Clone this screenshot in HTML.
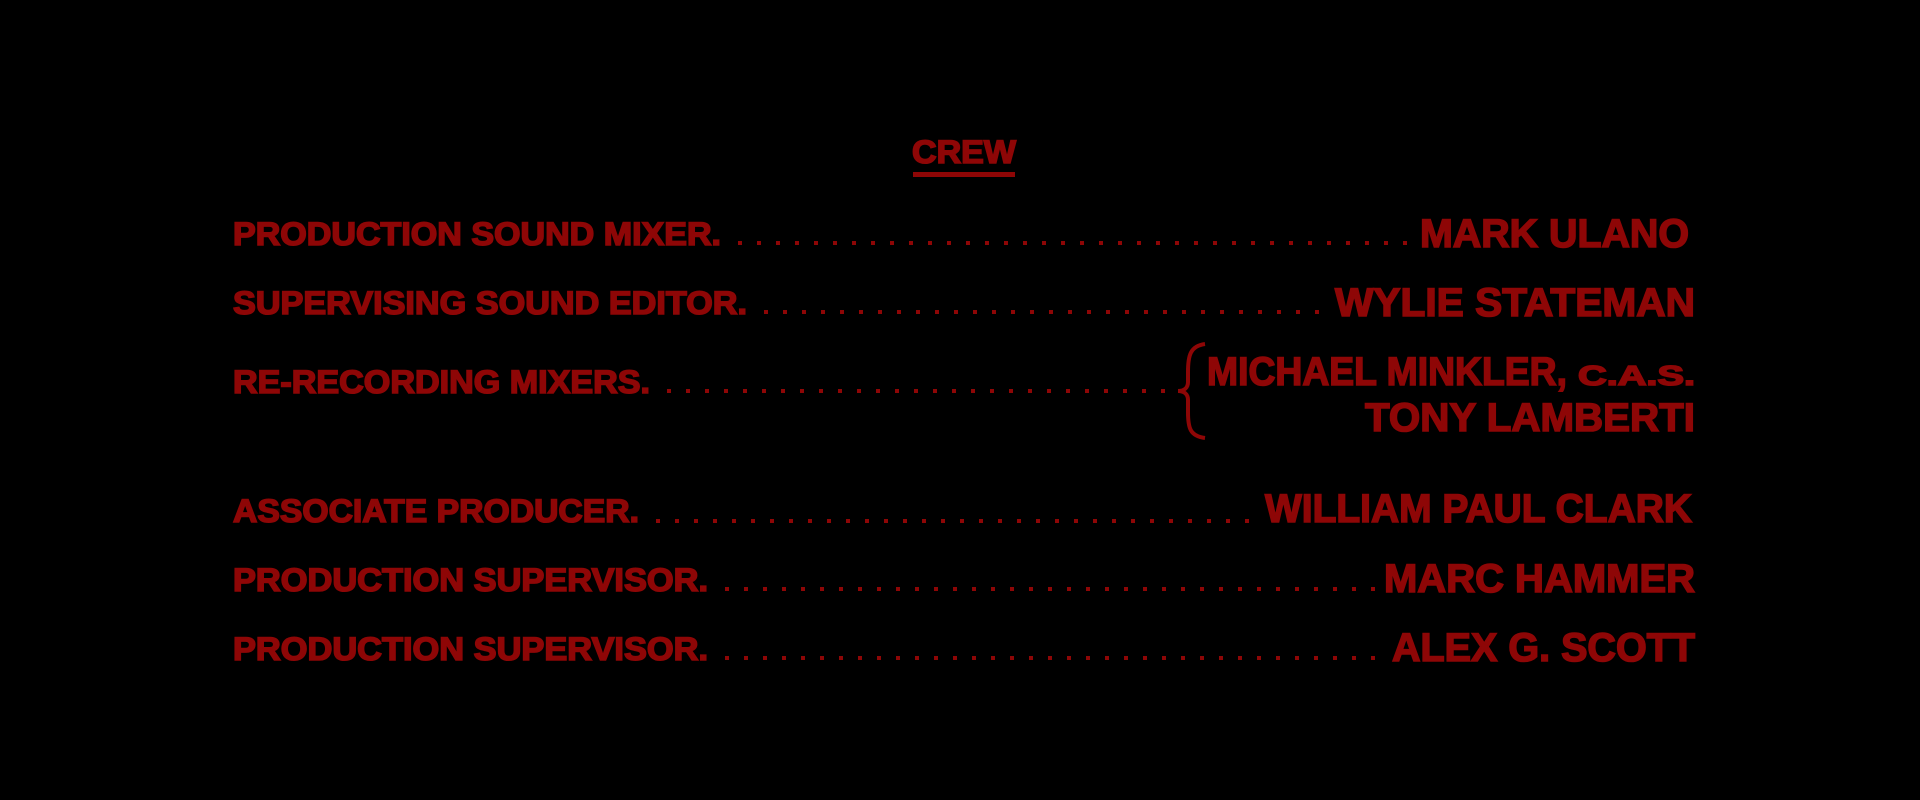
<!DOCTYPE html>
<html><head><style>html,body{margin:0;padding:0;background:#000;width:1920px;height:800px;overflow:hidden}</style></head>
<body>
<svg width="1920" height="800" viewBox="0 0 1920 800" xmlns="http://www.w3.org/2000/svg" style="display:block">
<rect width="1920" height="800" fill="#000"/>
<g fill="#8e0606" stroke="#8e0606" stroke-width="1.6" font-family="Liberation Sans, sans-serif" font-weight="bold">
<text x="912" y="163" font-size="32" textLength="104" lengthAdjust="spacingAndGlyphs">CREW</text>
<rect x="913" y="172" width="102" height="5" stroke="none"/>

<text x="233" y="245" font-size="32" textLength="488" lengthAdjust="spacingAndGlyphs">PRODUCTION SOUND MIXER.</text>
<text x="1420" y="247" font-size="40" textLength="269" lengthAdjust="spacingAndGlyphs">MARK ULANO</text>

<text x="233" y="314" font-size="32" textLength="514" lengthAdjust="spacingAndGlyphs">SUPERVISING SOUND EDITOR.</text>
<text x="1335" y="316" font-size="40" textLength="360" lengthAdjust="spacingAndGlyphs">WYLIE STATEMAN</text>

<text x="233" y="393" font-size="32" textLength="417" lengthAdjust="spacingAndGlyphs">RE-RECORDING MIXERS.</text>
<text x="1207" y="385" font-size="40" textLength="360" lengthAdjust="spacingAndGlyphs">MICHAEL MINKLER,</text>
<text x="1578" y="385" font-size="28" textLength="117" lengthAdjust="spacingAndGlyphs">C.A.S.</text>
<text x="1365" y="431" font-size="40" textLength="330" lengthAdjust="spacingAndGlyphs">TONY LAMBERTI</text>

<text x="233" y="522" font-size="32" textLength="406" lengthAdjust="spacingAndGlyphs">ASSOCIATE PRODUCER.</text>
<text x="1265" y="522" font-size="40" textLength="427" lengthAdjust="spacingAndGlyphs">WILLIAM PAUL CLARK</text>

<text x="233" y="591" font-size="32" textLength="475" lengthAdjust="spacingAndGlyphs">PRODUCTION SUPERVISOR.</text>
<text x="1384" y="592" font-size="40" textLength="311" lengthAdjust="spacingAndGlyphs">MARC HAMMER</text>

<text x="233" y="660" font-size="32" textLength="475" lengthAdjust="spacingAndGlyphs">PRODUCTION SUPERVISOR.</text>
<text x="1392" y="661" font-size="40" textLength="303" lengthAdjust="spacingAndGlyphs">ALEX G. SCOTT</text>
</g>
<g stroke="#8e0606" stroke-width="4" stroke-dasharray="4 15">
<line x1="738" y1="243" x2="1412" y2="243"/>
<line x1="764" y1="312" x2="1326" y2="312"/>
<line x1="667" y1="391" x2="1172" y2="391"/>
<line x1="656" y1="521" x2="1256" y2="521"/>
<line x1="725" y1="589" x2="1376" y2="589"/>
<line x1="725" y1="658" x2="1388" y2="658"/>
</g>
<path d="M1205 344 C1190 346 1188 356 1188 372 L1188 382 C1188 388 1184 391 1178 391 C1184 391 1188 394 1188 400 L1188 412 C1188 428 1190 436 1205 438" fill="none" stroke="#8e0606" stroke-width="4"/>
</svg>
</body></html>
